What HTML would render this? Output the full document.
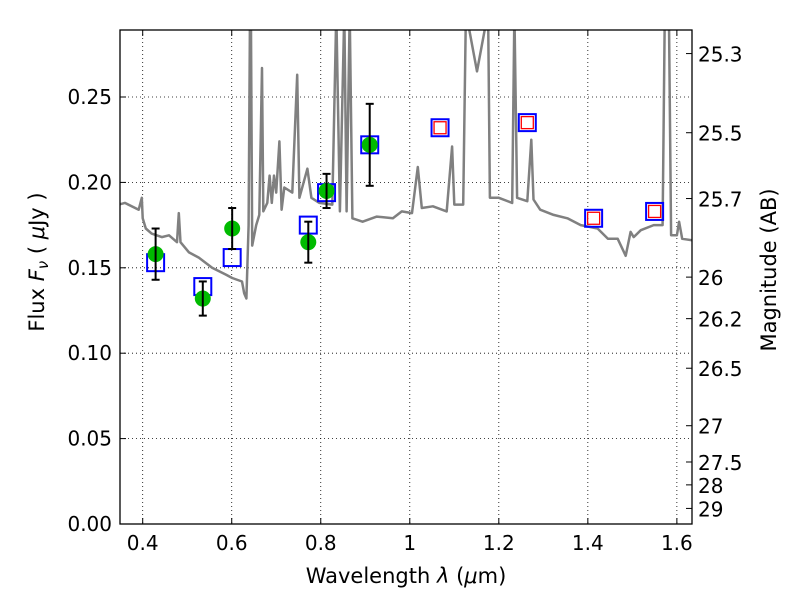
<!DOCTYPE html>
<html><head><meta charset="utf-8"><style>
body{margin:0;background:#fff;}
svg text{font-family:"DejaVu Sans","Liberation Sans",sans-serif;fill:#000;}
</style></head><body>
<svg id="chart" width="800" height="600" xmlns="http://www.w3.org/2000/svg">
<rect width="800" height="600" fill="#fff"/>
<g id="grid"></g>
<g id="plot"></g>
<rect x="120" y="30" width="572" height="494" fill="none" stroke="#000" stroke-width="1.3"/>
<g id="axes"></g>
<text x="406" y="583" font-size="21" text-anchor="middle">Wavelength  <tspan font-style="italic">λ</tspan> (<tspan font-style="italic">μ</tspan>m)</text>
<text transform="translate(44,262) rotate(-90)" font-size="21" text-anchor="middle">Flux  <tspan font-style="italic">F<tspan font-size="15" dy="4">ν</tspan></tspan><tspan dy="-4">  ( </tspan><tspan font-style="italic">μ</tspan>Jy )</text>
<text transform="translate(776,270) rotate(-90)" font-size="21" text-anchor="middle">Magnitude (AB)</text>
</svg>
<script>
const specX=[0.346,0.36,0.391,0.398,0.400,0.407,0.42,0.443,0.459,0.477,0.481,0.485,0.504,0.526,0.556,0.587,0.601,0.623,0.628,0.633,0.638,0.641,0.643,0.646,0.655,0.662,0.668,0.671,0.68,0.685,0.69,0.695,0.70,0.707,0.712,0.718,0.736,0.747,0.752,0.77,0.779,0.797,0.826,0.835,0.843,0.853,0.858,0.865,0.871,0.894,0.926,0.962,0.982,1.005,1.018,1.027,1.052,1.083,1.095,1.10,1.12,1.126,1.151,1.176,1.18,1.20,1.23,1.235,1.241,1.264,1.273,1.278,1.293,1.323,1.354,1.384,1.422,1.445,1.467,1.485,1.496,1.503,1.519,1.548,1.568,1.573,1.582,1.587,1.60,1.605,1.612,1.638];
const specY=[0.187,0.188,0.184,0.191,0.179,0.173,0.170,0.168,0.169,0.165,0.182,0.165,0.159,0.156,0.150,0.146,0.144,0.142,0.135,0.132,0.175,0.30,0.30,0.163,0.175,0.181,0.267,0.183,0.188,0.204,0.188,0.204,0.194,0.224,0.184,0.197,0.194,0.263,0.191,0.208,0.191,0.188,0.187,0.30,0.183,0.30,0.183,0.30,0.179,0.177,0.180,0.179,0.183,0.182,0.209,0.185,0.186,0.183,0.221,0.187,0.187,0.30,0.265,0.30,0.191,0.191,0.188,0.30,0.191,0.189,0.225,0.190,0.184,0.181,0.179,0.175,0.173,0.167,0.167,0.157,0.171,0.168,0.172,0.175,0.175,0.30,0.30,0.169,0.169,0.177,0.167,0.166];
const obsX=[0.429,0.535,0.601,0.772,0.813,0.91];
const obsY=[0.158,0.132,0.173,0.165,0.195,0.222];
const obsErr=[0.015,0.010,0.012,0.012,0.010,0.024];
const modelX=[0.429,0.535,0.601,0.772,0.813,0.91,1.068,1.264,1.413,1.550];
const modelY=[0.153,0.139,0.156,0.175,0.194,0.222,0.232,0.235,0.179,0.183];
const redX=[1.068,1.264,1.413,1.550];
const redY=[0.232,0.235,0.179,0.183];
const xTicks=[0.4,0.6,0.8,1.0,1.2,1.4,1.6];
const xTickLabels=["0.4","0.6","0.8","1","1.2","1.4","1.6"];
const yTicks=[0,0.05,0.10,0.15,0.20,0.25];
const yTickLabels=["0.00","0.05","0.10","0.15","0.20","0.25"];
const magTicks=[25.3,25.5,25.7,26,26.2,26.5,27,27.5,28,29];
const magTickLabels=["25.3","25.5","25.7","26","26.2","26.5","27","27.5","28","29"];

const L=120,R=692,T=30,B=524,X0=0.349,X1=1.634,Y0=0,Y1=494/1708;
const sx=v=>L+(v-X0)/(X1-X0)*(R-L);
const sy=v=>B-(v-Y0)/(Y1-Y0)*(B-T);
const NS="http://www.w3.org/2000/svg";
function mk(tag,attrs,parent){const e=document.createElementNS(NS,tag);for(const k in attrs)e.setAttribute(k,attrs[k]);parent.appendChild(e);return e;}
const grid=document.getElementById('grid'),plot=document.getElementById('plot'),axes=document.getElementById('axes');

xTicks.forEach((v,i)=>{const x=sx(v);
 const g=mk('line',{x1:x,x2:x,y1:T,y2:B,stroke:'#000','stroke-width':0.8,'stroke-dasharray':'1,3'},grid);
 
 
 mk('line',{x1:x,x2:x,y1:B,y2:B-6,stroke:'#000'},axes);
 mk('line',{x1:x,x2:x,y1:T,y2:T+6,stroke:'#000'},axes);
 const t=mk('text',{x:x,y:B+26,'font-size':20,'text-anchor':'middle'},axes);t.textContent=xTickLabels[i];
 
 
});
yTicks.forEach((v,i)=>{const y=sy(v);
 const g=mk('line',{x1:L,x2:R,y1:y,y2:y,stroke:'#000','stroke-width':0.8,'stroke-dasharray':'1,3'},grid);
 
 
 mk('line',{x1:L,x2:L+6,y1:y,y2:y,stroke:'#000'},axes);
 const t=mk('text',{x:L-8,y:y+7,'font-size':20,'text-anchor':'end'},axes);t.textContent=yTickLabels[i];
 
 
});
magTicks.forEach((m,i)=>{const f=Math.pow(10,(23.9-m)/2.5);const y=sy(f);
 mk('line',{x1:R,x2:R-6,y1:y,y2:y,stroke:'#000'},axes);
 const t=mk('text',{x:R+6,y:y+8,'font-size':20},axes);t.textContent=magTickLabels[i];
 
 
});

const clip=mk('clipPath',{id:'pc'},plot);mk('rect',{x:L,y:T,width:R-L,height:B-T},clip);
let d=specX.map((v,i)=>(i?'L':'M')+sx(v).toFixed(1)+','+sy(specY[i]).toFixed(1)).join(' ');
const sp=mk('path',{d:d,fill:'none',stroke:'#808080','stroke-width':2.5,'clip-path':'url(#pc)','stroke-linejoin':'round'},plot);



modelX.forEach((v,i)=>{const x=sx(v),y=sy(modelY[i]);
 const r=mk('rect',{x:x-8.5,y:y-8.5,width:17,height:17,fill:'none',stroke:'#0000ff','stroke-width':2},plot);
 
 
});
redX.forEach((v,i)=>{const x=sx(v),y=sy(redY[i]);
 const r=mk('rect',{x:x-6,y:y-6,width:12,height:12,fill:'none',stroke:'#ff0000','stroke-width':1.3},plot);
 
 
});
obsX.forEach((v,i)=>{const x=sx(v),y=sy(obsY[i]),y1=sy(obsY[i]+obsErr[i]),y2=sy(obsY[i]-obsErr[i]);
 const g=mk('g',{},plot);
 
 
 mk('circle',{cx:x,cy:y,r:8,fill:'#00bb00'},g);
 mk('line',{x1:x,x2:x,y1:y1,y2:y2,stroke:'#000','stroke-width':2},g);
 mk('line',{x1:x-4,x2:x+4,y1:y1,y2:y1,stroke:'#000','stroke-width':2},g);
 mk('line',{x1:x-4,x2:x+4,y1:y2,y2:y2,stroke:'#000','stroke-width':2},g);
});
</script>
</body></html>
